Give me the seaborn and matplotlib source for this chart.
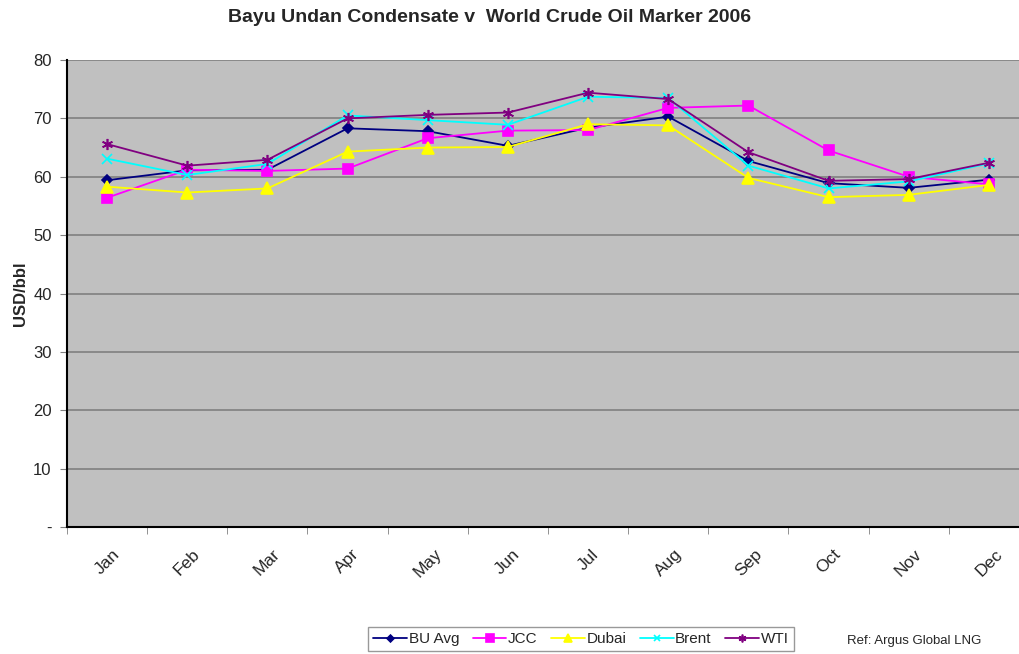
import numpy as np
import pandas as pd
import matplotlib
matplotlib.use("Agg")
import matplotlib.pyplot as plt
import seaborn as sns

# monthly averages, USD/bbl
months = ['Jan', 'Feb', 'Mar', 'Apr', 'May', 'Jun', 'Jul', 'Aug', 'Sep', 'Oct', 'Nov', 'Dec']
bu_avg = [59.4, 61.1, 61.2, 68.3, 67.8, 65.3, 68.4, 70.3, 62.7, 58.9, 58.1, 59.5]
jcc = [56.4, 61.2, 61.0, 61.4, 66.6, 67.9, 68.0, 71.8, 72.2, 64.5, 60.0, 58.7]
dubai = [58.3, 57.3, 58.0, 64.3, 65.0, 65.1, 69.0, 68.8, 59.8, 56.5, 56.9, 58.6]
brent = [63.1, 60.3, 62.2, 70.5, 69.7, 68.9, 73.7, 73.5, 61.9, 58.0, 59.2, 62.3]
wti = [65.6, 61.9, 62.9, 70.0, 70.6, 71.0, 74.4, 73.3, 64.2, 59.3, 59.6, 62.4]

series = {'BU Avg': bu_avg, 'JCC': jcc, 'Dubai': dubai, 'Brent': brent, 'WTI': wti}
colors = {'BU Avg': '#000080', 'JCC': '#FF00FF', 'Dubai': '#FFFF00', 'Brent': '#00FFFF', 'WTI': '#800080'}
markers = {'BU Avg': 'D', 'JCC': 's', 'Dubai': '^', 'Brent': 'x', 'WTI': (6, 2, 0)}
msizes = {'BU Avg': 5, 'JCC': 7.5, 'Dubai': 8, 'Brent': 7, 'WTI': 8}

df = pd.DataFrame({'month': np.tile(np.arange(len(months)), len(series)),
                   'value': np.concatenate([series[k] for k in series]),
                   'series': np.repeat(list(series.keys()), len(months))})

sns.set_style("white")
plt.rcParams['font.family'] = ['Liberation Sans', 'DejaVu Sans']

fig = plt.figure(figsize=(10.2, 6.54), dpi=100)
ax = fig.add_axes([67/1020, 1 - 527/654, 962/1020, 467/654])
ax.set_facecolor('#C0C0C0')

for name in series:
    sub = df[df['series'] == name]
    sns.lineplot(data=sub, x='month', y='value', ax=ax, color=colors[name],
                 marker=markers[name], markersize=msizes[name], linewidth=1.3,
                 markeredgecolor=colors[name], markeredgewidth=1.2, label=name)

ax.set_xlim(-0.5, 11.5)
ax.set_ylim(0, 80)
ax.set_yticks(range(0, 81, 10))
ax.set_yticklabels(['-'] + [str(v) for v in range(10, 81, 10)], fontsize=12)
ax.yaxis.grid(True, color='#808080', linewidth=1.2)
ax.set_axisbelow(True)

ax.set_xticks(range(12))
ax.set_xticklabels(months, rotation=45, ha='center', va='top', fontsize=12.5)
ax.set_xticks(np.arange(-0.5, 12, 1), minor=True)
ax.tick_params(axis='x', which='major', length=0, pad=14)
ax.tick_params(axis='x', which='minor', length=5, color='#808080', direction='out', bottom=True)
ax.tick_params(axis='y', length=5, color='#808080', direction='out', left=True, pad=6)

for s in ['top', 'right']:
    ax.spines[s].set_visible(False)
ax.spines['left'].set_color('black')
ax.spines['left'].set_linewidth(1.5)
ax.spines['bottom'].set_color('black')
ax.spines['bottom'].set_linewidth(1.5)

ax.set_xlabel('')
ax.set_ylabel('USD/bbl', fontsize=12, fontweight='bold', labelpad=4)

fig.text(490/1020, 1 - 17/654, 'Bayu Undan Condensate v  World Crude Oil Marker 2006',
         ha='center', va='center', fontsize=14, fontweight='bold')

handles, labels = ax.get_legend_handles_labels()
ax.get_legend().remove()
leg = fig.legend(handles, labels, loc='center', bbox_to_anchor=(581/1020, 1 - 639/654),
                 ncol=5, fontsize=11, frameon=True, fancybox=False, edgecolor='#808080',
                 handlelength=2.2, columnspacing=0.9, handletextpad=0.1, borderpad=0.35,
                 markerscale=0.7)
leg.get_frame().set_linewidth(1.0)

fig.text(847/1020, 1 - 641/654, 'Ref: Argus Global LNG', ha='left', va='center', fontsize=9.5)

fig.savefig('out.png', dpi=100)
